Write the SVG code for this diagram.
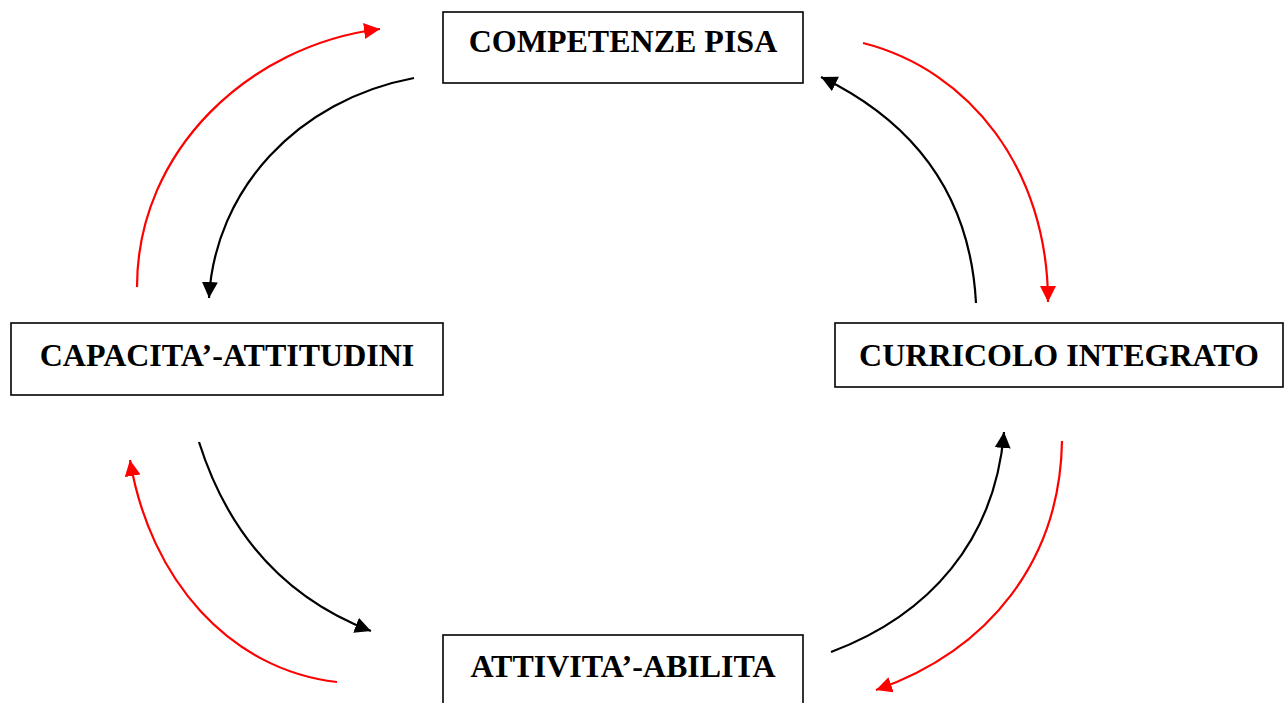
<svg xmlns="http://www.w3.org/2000/svg" width="1286" height="703" viewBox="0 0 1286 703">
<style>
.box{fill:#fff;stroke:#000;stroke-width:1.6}
.lbl{font-family:"Liberation Serif","Times New Roman",serif;font-weight:bold;font-size:32px;fill:#000;text-anchor:middle}
.blk{fill:none;stroke:#000;stroke-width:2.2}
.red{fill:none;stroke:#ff0000;stroke-width:2.2}
</style>
<defs>
<marker id="ab" markerUnits="userSpaceOnUse" markerWidth="18" markerHeight="17" refX="16" refY="8" orient="auto"><path d="M0,0 L16,8 L0,16 z" fill="#000"/></marker>
<marker id="ar" markerUnits="userSpaceOnUse" markerWidth="18" markerHeight="17" refX="16" refY="8" orient="auto"><path d="M0,0 L16,8 L0,16 z" fill="#ff0000"/></marker>
</defs>
<rect width="1286" height="703" fill="#fff"/>
<g id="connectors">
<path class="red" d="M137,287 C137,150 250,45 380,29" marker-end="url(#ar)"/>
<path class="blk" d="M414,78 C297,100 215,190 209,298" marker-end="url(#ab)"/>
<path class="red" d="M863,43 C970,70 1048,170 1048,302" marker-end="url(#ar)"/>
<path class="blk" d="M976,303 C970,190 910,120 821,77" marker-end="url(#ab)"/>
<path class="blk" d="M199,442 C230,540 290,600 371,631" marker-end="url(#ab)"/>
<path class="red" d="M337,682 C230,670 150,580 130,460" marker-end="url(#ar)"/>
<path class="blk" d="M831,652 C930,615 995,540 1004,432" marker-end="url(#ab)"/>
<path class="red" d="M1062,441 C1060,560 990,650 876,690" marker-end="url(#ar)"/>
</g>
<g id="competenze">
<rect class="box" x="443" y="12" width="360" height="71"/>
<text class="lbl" x="623" y="52">COMPETENZE PISA</text>
</g>
<g id="capacita">
<rect class="box" x="11" y="323" width="432" height="72"/>
<text class="lbl" x="227" y="366">CAPACITA’-ATTITUDINI</text>
</g>
<g id="curricolo">
<rect class="box" x="835" y="323" width="448" height="64"/>
<text class="lbl" x="1059" y="366">CURRICOLO INTEGRATO</text>
</g>
<g id="attivita">
<rect class="box" x="443" y="635" width="360" height="80"/>
<text class="lbl" x="623" y="677">ATTIVITA’-ABILITA</text>
</g>
</svg>
